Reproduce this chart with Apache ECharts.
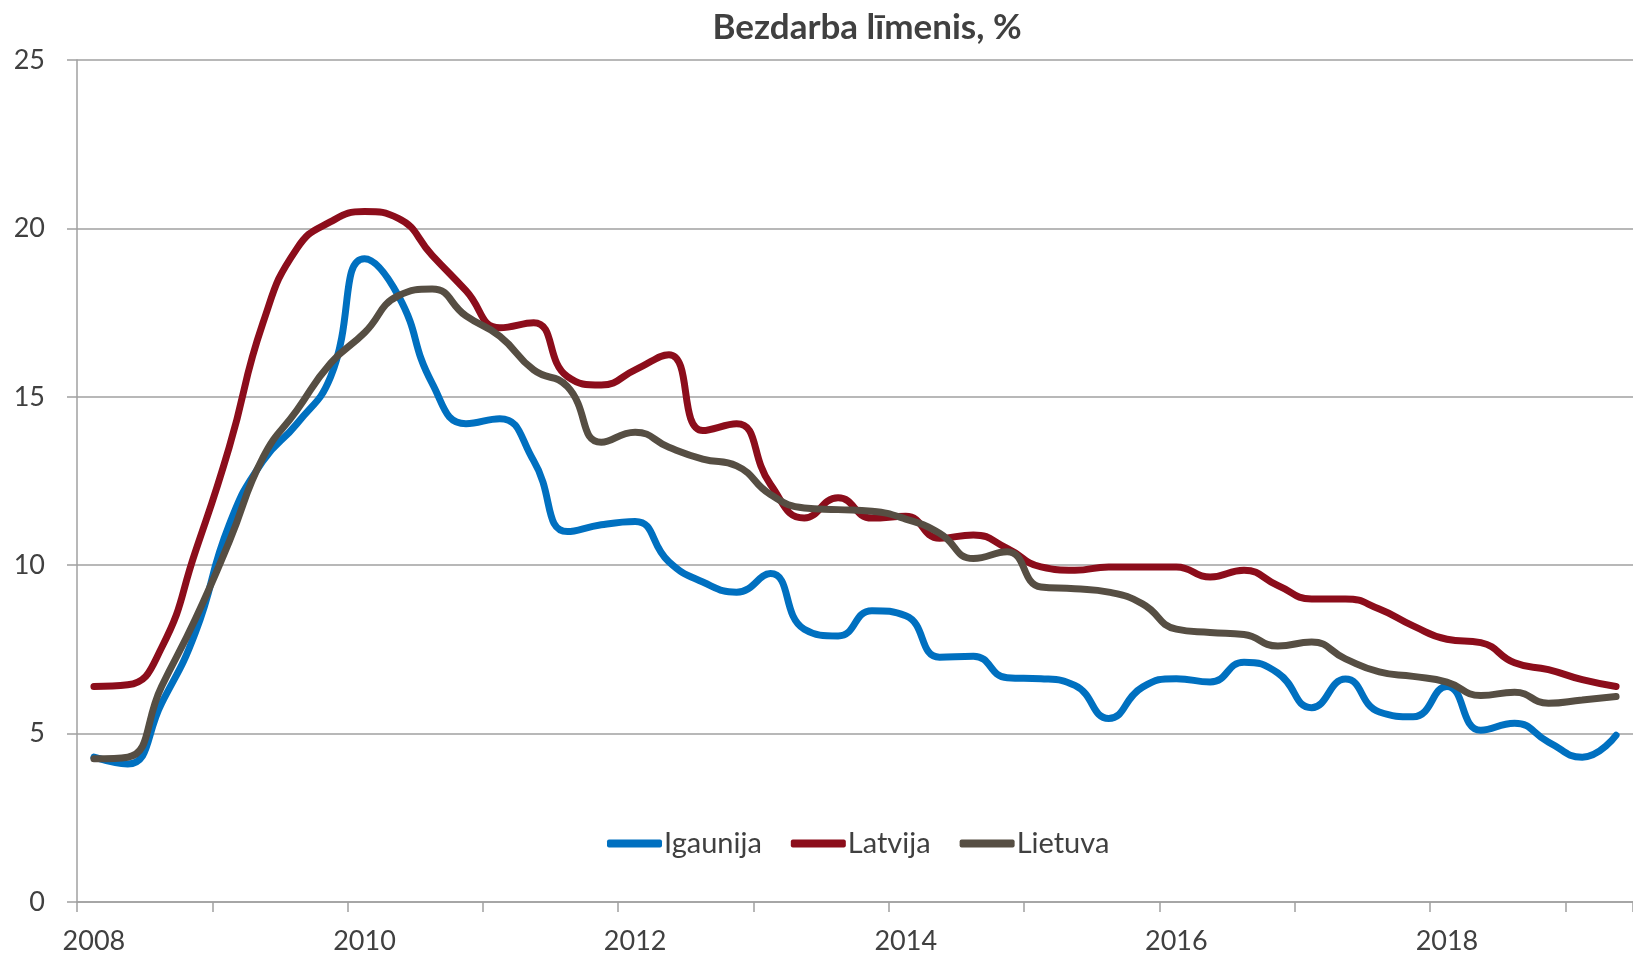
<!DOCTYPE html>
<html>
<head>
<meta charset="utf-8">
<title>Bezdarba līmenis</title>
<script src="https://cdn.jsdelivr.net/npm/echarts@6/dist/echarts.min.js"></script>
<style>
  html, body { margin: 0; padding: 0; background: #fff; }
  #main { width: 1633px; height: 957px; }
</style>
</head>
<body>
<div id="main"></div>
<script>
// ceturkšņi 2008Q1 .. 2019Q2
const quarters = [
  '2008Q1', '2008Q2', '2008Q3', '2008Q4',
  '2009Q1', '2009Q2', '2009Q3', '2009Q4',
  '2010Q1', '2010Q2', '2010Q3', '2010Q4',
  '2011Q1', '2011Q2', '2011Q3', '2011Q4',
  '2012Q1', '2012Q2', '2012Q3', '2012Q4',
  '2013Q1', '2013Q2', '2013Q3', '2013Q4',
  '2014Q1', '2014Q2', '2014Q3', '2014Q4',
  '2015Q1', '2015Q2', '2015Q3', '2015Q4',
  '2016Q1', '2016Q2', '2016Q3', '2016Q4',
  '2017Q1', '2017Q2', '2017Q3', '2017Q4',
  '2018Q1', '2018Q2', '2018Q3', '2018Q4',
  '2019Q1', '2019Q2'
];

const igaunija = [
  4.3, 4.1, 5.9, 8.0, 11.2, 13.1, 14.2, 15.6,
  19.1, 18.0, 15.4, 14.2, 14.35, 13.1, 11.0, 11.2,
  11.3, 10.1, 9.5, 9.2, 9.75, 8.1, 7.9, 8.65,
  8.5, 7.27, 7.3, 6.66, 6.63, 6.43, 5.45, 6.38,
  6.63, 6.53, 7.12, 6.8, 5.77, 6.62, 5.64, 5.5,
  6.4, 5.1, 5.31, 4.75, 4.3, 4.95
];

const latvija = [
  6.4, 6.45, 7.55, 10.4, 13.5, 17.2, 19.4, 20.2,
  20.5, 20.3, 19.2, 18.15, 17.05, 17.2, 15.6, 15.35,
  15.8, 16.25, 14.0, 14.2, 12.4, 11.4, 12.0, 11.4,
  11.45, 10.8, 10.9, 10.5, 9.95, 9.85, 9.95, 9.95,
  9.95, 9.65, 9.85, 9.4, 9.0, 9.0, 8.7, 8.2,
  7.8, 7.7, 7.1, 6.9, 6.6, 6.4
];

const lietuva = [
  4.25, 4.3, 6.4, 8.4, 10.7, 13.2, 14.6, 16.0,
  16.9, 18.0, 18.2, 17.4, 16.8, 15.8, 15.3, 13.65,
  13.95, 13.5, 13.15, 12.95, 12.1, 11.7, 11.65, 11.6,
  11.37, 10.95, 10.2, 10.4, 9.35, 9.3, 9.2, 8.85,
  8.1, 8.0, 7.94, 7.6, 7.72, 7.22, 6.83, 6.7,
  6.53, 6.13, 6.23, 5.9, 6.0, 6.1
];

const yTicks = { min: 0, max: 25, step: 5 };

const textColor = '#404040';
const gridColor = '#a0a0a0';
const fontFamily = 'Lato, "Open Sans", sans-serif';

let myChart = echarts.init(document.getElementById('main'));

function lineSeries(name, data, color) {
  return {
    name: name,
    type: 'line',
    data: data,
    smooth: true,
    symbol: 'none',
    lineStyle: { width: 7, color: color, cap: 'round', join: 'round' },
    itemStyle: { color: color }
  };
}

let option = {
  backgroundColor: '#fff',
  animation: false,
  title: {
    text: 'Bezdarba līmenis, %',
    left: 862,
    top: 5,
    textAlign: 'center',
    textStyle: { fontFamily: fontFamily, fontSize: 35, fontWeight: 'bold', color: textColor }
  },
  legend: {
    data: ['Igaunija', 'Latvija', 'Lietuva'],
    left: 602,
    top: 824,
    icon: 'roundRect',
    itemWidth: 55,
    itemHeight: 8,
    itemGap: 29,
    textStyle: { fontFamily: fontFamily, fontSize: 29, color: textColor, padding: [0, 0, 0, -3] }
  },
  grid: {
    left: 77,
    top: 60,
    width: 1569,   // zīmēšanas laukums iziet ārpus labās malas, kā oriģinālā
    height: 842
  },
  xAxis: {
    type: 'category',
    data: quarters,
    boundaryGap: true,
    axisLine: { lineStyle: { color: gridColor, width: 1.5 } },
    axisTick: { show: true, interval: 3, length: 10, lineStyle: { color: gridColor, width: 1.5 } },
    axisLabel: {
      interval: 7,
      margin: 26,
      fontFamily: fontFamily,
      fontSize: 27,
      color: textColor,
      formatter: (v) => v.slice(0, 4)
    },
    splitLine: { show: false }
  },
  yAxis: {
    type: 'value',
    min: yTicks.min,
    max: yTicks.max,
    interval: yTicks.step,
    axisLine: { show: true, lineStyle: { color: gridColor, width: 1.5 } },
    axisTick: { show: true, length: 10, lineStyle: { color: gridColor, width: 1.5 } },
    axisLabel: { margin: 32, fontFamily: fontFamily, fontSize: 27, color: textColor },
    splitLine: { lineStyle: { color: gridColor, width: 1.5 } }
  },
  series: [
    lineSeries('Igaunija', igaunija, '#0070C0'),
    lineSeries('Latvija', latvija, '#8C0D1B'),
    lineSeries('Lietuva', lietuva, '#564E43')
  ]
};

myChart.setOption(option);
</script>
</body>
</html>
